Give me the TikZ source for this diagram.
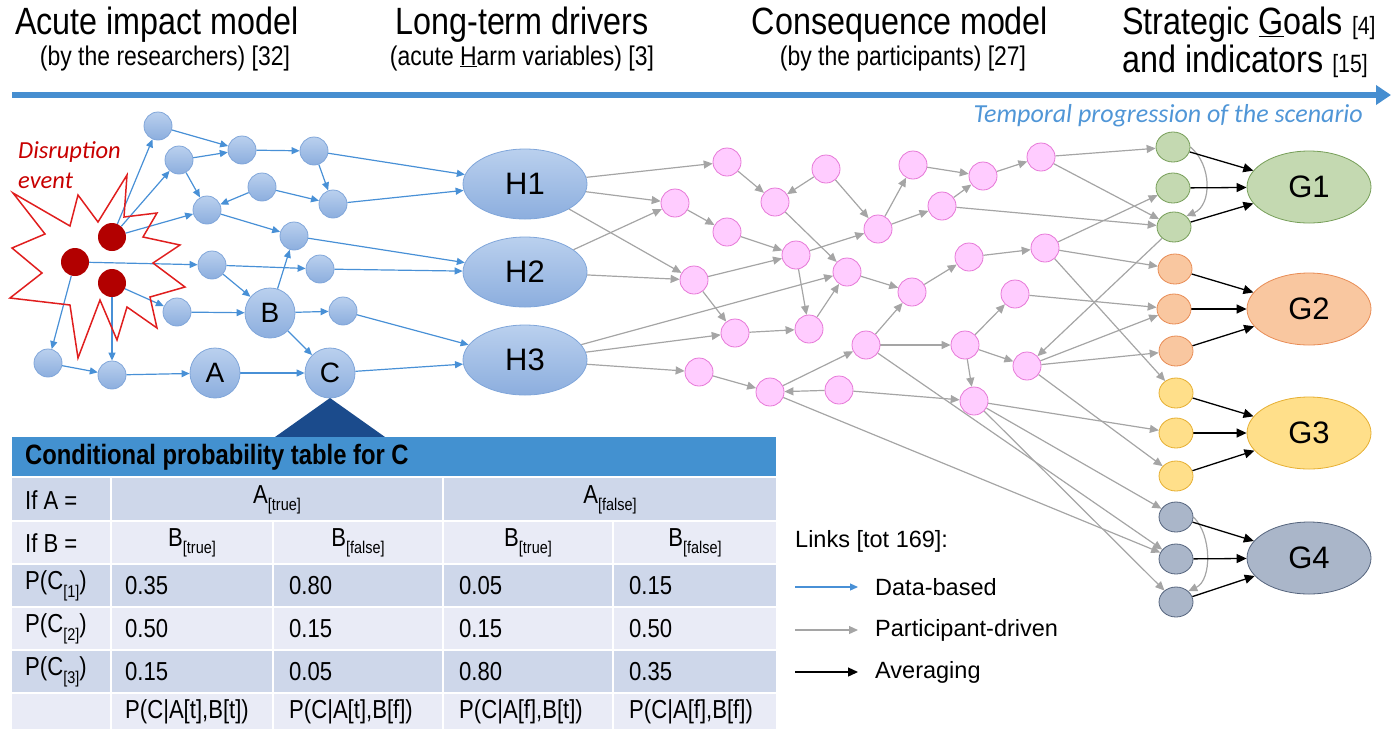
\documentclass[tikz,border=0pt]{standalone}
\usepackage{fontspec}
\setmainfont{Liberation Sans}
\newfontfamily\narrowf{Liberation Sans}[FakeStretch=0.85]
\newfontfamily\calif{Carlito}
\usetikzlibrary{arrows.meta,shapes.geometric}
\newcommand\fs[1]{\fontsize{#1}{#1}\selectfont}
\newcommand\sbs[1]{\raisebox{-0.55ex}{\fs{17}#1}}

\definecolor{tlblue}{RGB}{70,142,208}
\definecolor{linkblue}{RGB}{72,144,214}
\definecolor{linkgray}{RGB}{165,165,165}
\definecolor{btop}{RGB}{186,208,238}
\definecolor{bbot}{RGB}{140,174,222}
\definecolor{bline}{RGB}{128,166,218}
\definecolor{pfill}{RGB}{255,204,255}
\definecolor{pline}{RGB}{230,120,215}
\definecolor{dotred}{RGB}{178,0,0}
\definecolor{starred}{RGB}{224,30,30}
\definecolor{evred}{RGB}{200,0,0}
\definecolor{grfill}{RGB}{196,217,177}
\definecolor{grline}{RGB}{118,158,88}
\definecolor{orfill}{RGB}{249,199,160}
\definecolor{orline}{RGB}{232,140,85}
\definecolor{yefill}{RGB}{255,223,138}
\definecolor{yeline}{RGB}{230,175,50}
\definecolor{gyfill}{RGB}{170,182,201}
\definecolor{gyline}{RGB}{85,100,125}
\definecolor{hdrblue}{RGB}{67,145,208}
\definecolor{tridark}{RGB}{27,75,140}
\definecolor{rowdark}{RGB}{206,215,234}
\definecolor{rowlight}{RGB}{233,235,246}
\definecolor{tempblue}{RGB}{80,150,215}

\pgfdeclarelayer{edges}
\pgfsetlayers{edges,main}

\begin{document}
\begin{tikzpicture}[x=1pt,y=-1pt,
  bnode/.style={circle, minimum size=28pt, inner sep=0, draw=bline, line width=0.8pt, top color=btop, bottom color=bbot},
  bbig/.style={bnode, minimum size=50pt, font=\fs{28}},
  hnode/.style={ellipse, minimum width=124pt, minimum height=70pt, inner sep=0, draw=bline, line width=0.8pt, top color=btop, bottom color=bbot, font=\fs{31}},
  pnode/.style={circle, minimum size=28pt, inner sep=0, draw=pline, fill=pfill, line width=0.8pt},
  ind/.style={ellipse, minimum width=34pt, minimum height=30pt, inner sep=0, line width=0.8pt},
  goal/.style={ellipse, minimum width=124pt, minimum height=72pt, inner sep=0, line width=0.8pt, font=\fs{31}},
  reddot/.style={circle, minimum size=28pt, inner sep=0, fill=dotred},
  dlink/.style={draw=linkblue, line width=1.2pt, -{Triangle[length=8pt,width=7pt]}},
  plink/.style={draw=linkgray, line width=1.2pt, -{Triangle[length=9pt,width=8pt]}},
  alink/.style={draw=black, line width=1.3pt, -{Triangle[length=10pt,width=9pt]}},
  title/.style={anchor=base, inner sep=0, font=\narrowf\fs{38}},
  subtitle/.style={anchor=base, inner sep=0, font=\narrowf\fs{27}},
  cell/.style={inner sep=0, font=\narrowf\fs{26}},
  legend/.style={anchor=west, inner sep=0, font=\fs{23.5}}
]
\useasboundingbox (0,0) rectangle (1391,729);

% ---------- headings and timeline ----------
\node[title] (t1) at (157,34) {Acute impact model};
\node[subtitle] (s1) at (165,65) {(by the researchers) [32]};
\node[title] (t2) at (522,34) {Long-term drivers};
\node[subtitle] (s2) at (522,65) {(acute \underline{H}arm variables) [3]};
\node[title] (t3) at (900,34) {Consequence model};
\node[subtitle] (s3) at (903,65) {(by the participants) [27]};
\node[title, anchor=base west] (t4) at (1122,34) {Strategic \underline{G}oals {\fs{25}[4]}};
\node[title, anchor=base west] (t5) at (1122,72) {and indicators {\fs{25}[15]}};

\coordinate (tl0) at (12,95);
\coordinate (tl1) at (1391,95);
\draw[line width=6.5pt, tlblue, -{Triangle[length=15pt,width=19pt]}] (tl0) -- (tl1);
\node[anchor=east, inner sep=0, text=tempblue, font=\calif\itshape\fs{26}] (temp) at (1363,116) {Temporal progression of the scenario};

% ---------- disruption event ----------
\node[anchor=base west, inner sep=0, text=evred, font=\calif\itshape\fs{24.5}] (dis1) at (18,158) {Disruption};
\node[anchor=base west, inner sep=0, text=evred, font=\calif\itshape\fs{24.5}] (dis2) at (18,188) {event};
\draw[starred, line width=1.5pt, line join=miter]
  (12,248) -- (45,234) -- (13,193) -- (70,226) -- (78,195) -- (98,222) -- (127,175) -- (124,217)
  -- (157,213) -- (143,237) -- (180,245) -- (153,263) -- (185,287) -- (150,297) -- (157,328)
  -- (127,307) -- (117,340) -- (100,300) -- (78,358) -- (70,305) -- (10,298) -- (42,273) -- cycle;
\node[reddot] (r1) at (112,237) {};
\node[reddot] (r2) at (75,262) {};
\node[reddot] (r3) at (112,283) {};

% ---------- acute impact model ----------
\node[bnode] (n1) at (158,126) {};
\node[bnode] (n2) at (179,160) {};
\node[bnode] (n3) at (242,150) {};
\node[bnode] (n4) at (314,151) {};
\node[bnode] (n5) at (262,187) {};
\node[bnode] (n6) at (207,210) {};
\node[bnode] (n7) at (333,204) {};
\node[bnode] (n8) at (294,236) {};
\node[bnode] (n9) at (212,265) {};
\node[bnode] (n10) at (320,269) {};
\node[bnode] (n11) at (177,312) {};
\node[bbig] (B) at (270,313) {B};
\node[bnode] (n12) at (343,311) {};
\node[bnode] (n13) at (48,363) {};
\node[bnode] (n14) at (112,375) {};
\node[bbig] (A) at (215,373) {A};
\node[bbig] (C) at (330,373) {C};

% ---------- harm variables ----------
\node[hnode] (H1) at (525,184) {H1};
\node[hnode] (H2) at (525,272) {H2};
\node[hnode] (H3) at (525,360) {H3};

% ---------- consequence model ----------
\node[pnode] (p1) at (727,162) {};
\node[pnode] (p2) at (675,203) {};
\node[pnode] (p3) at (727,232) {};
\node[pnode] (p4) at (826,169) {};
\node[pnode] (p5) at (775,202) {};
\node[pnode] (p6) at (796,255) {};
\node[pnode] (p7) at (694,280) {};
\node[pnode] (p8) at (847,272) {};
\node[pnode] (p9) at (735,333) {};
\node[pnode] (p10) at (809,329) {};
\node[pnode] (p11) at (699,372) {};
\node[pnode] (p12) at (770,392) {};
\node[pnode] (p13) at (839,390) {};
\node[pnode] (p14) at (866,345) {};
\node[pnode] (p15) at (878,229) {};
\node[pnode] (p16) at (913,165) {};
\node[pnode] (p17) at (942,206) {};
\node[pnode] (p18) at (912,292) {};
\node[pnode] (p20) at (983,176) {};
\node[pnode] (p22) at (1041,157) {};
\node[pnode] (p23) at (969,257) {};
\node[pnode] (p24) at (1045,248) {};
\node[pnode] (p26) at (1015,294) {};
\node[pnode] (p27) at (965,345) {};
\node[pnode] (p28) at (1027,366) {};
\node[pnode] (p29) at (974,401) {};

% ---------- indicators and goals ----------
\node[ind, fill=grfill, draw=grline] (gr1) at (1173,147) {};
\node[ind, fill=grfill, draw=grline] (gr2) at (1173,188) {};
\node[ind, fill=grfill, draw=grline] (gr3) at (1174,227) {};
\node[ind, fill=orfill, draw=orline] (or1) at (1175,269) {};
\node[ind, fill=orfill, draw=orline] (or2) at (1174,309) {};
\node[ind, fill=orfill, draw=orline] (or3) at (1176,351) {};
\node[ind, fill=yefill, draw=yeline] (ye1) at (1176,393) {};
\node[ind, fill=yefill, draw=yeline] (ye2) at (1176,433) {};
\node[ind, fill=yefill, draw=yeline] (ye3) at (1176,476) {};
\node[ind, fill=gyfill, draw=gyline] (gy1) at (1176,517) {};
\node[ind, fill=gyfill, draw=gyline] (gy2) at (1176,559) {};
\node[ind, fill=gyfill, draw=gyline] (gy3) at (1176,602) {};

\node[goal, fill=grfill, draw=grline] (G1) at (1309,187) {G1};
\node[goal, fill=orfill, draw=orline] (G2) at (1309,309) {G2};
\node[goal, fill=yefill, draw=yeline] (G3) at (1309,433) {G3};
\node[goal, fill=gyfill, draw=gyline] (G4) at (1309,558) {G4};

% ---------- links ----------
\begin{pgfonlayer}{edges}
\foreach \a/\b in {r1/n1, r1/n2, r1/n6, r2/n9, r2/n13, r3/n11, r3/n14,
  n1/n3, n2/n3, n2/n6, n3/n4, n4/n7, n5/n6, n5/n7, n6/n8, n9/n10, n9/B,
  B/n8, n11/B, B/n12, B/C, n13/n14, n14/A, A/C,
  n4/H1, n7/H1, n8/H2, n10/H2, n12/H3, C/H3}
  \draw[dlink] (\a) -- (\b);
\foreach \a/\b in {H1/p1, H1/p2, H1/p7, H2/p2, H2/p7, H3/p8, H3/p9, H3/p11,
  p1/p5, p2/p3, p3/p6, p4/p5, p4/p15, p5/p8, p6/p10, p6/p15, p7/p6, p7/p9,
  p9/p10, p10/p8, p8/p18, p11/p12, p13/p12, p12/p14, p14/p18, p14/p27,
  p15/p16, p15/p17, p16/p20, p17/p20, p20/p22, p18/p23, p23/p24,
  p27/p26, p27/p28, p27/p29, p13/p29,
  p22/gr1, p22/gr3, p17/gr3, p24/gr2, p24/or1, p24/ye1, gr3/p28,
  p26/or2, p28/or2, p28/or3, p28/ye3, p29/ye2, p29/gy1, p29/gy3,
  p14/gy2, p12/gy2}
  \draw[plink] (\a) -- (\b);
\draw[plink] (gr1.east) .. controls (1212,165) and (1212,205) .. (gr3.north east);
\draw[plink] (gy1.east) .. controls (1212,535) and (1212,580) .. (gy3.north east);
\foreach \a/\b in {gr1/G1, gr2/G1, gr3/G1, or1/G2, or2/G2, or3/G2,
  ye1/G3, ye2/G3, ye3/G3, gy1/G4, gy2/G4, gy3/G4}
  \draw[alink] (\a) -- (\b);
\end{pgfonlayer}

% ---------- legend ----------
\node[legend] (lgtitle) at (795,541) {Links [tot 169]:};
\coordinate (lb0) at (795,587); \coordinate (lb1) at (858,587);
\coordinate (lg0) at (795,630); \coordinate (lg1) at (858,630);
\coordinate (lk0) at (795,672); \coordinate (lk1) at (858,672);
\draw[dlink] (lb0) -- (lb1);
\draw[plink] (lg0) -- (lg1);
\draw[alink] (lk0) -- (lk1);
\node[legend] (lgb) at (875,587) {Data-based};
\node[legend] (lgg) at (875,630) {Participant-driven};
\node[legend] (lgk) at (875,672) {Averaging};

% ---------- conditional probability table ----------
\fill[tridark] (330,398) -- (385,437) -- (275,437) -- cycle;
\fill[hdrblue] (12,437) rectangle (776,476);
\node[anchor=west, inner sep=0, font=\narrowf\bfseries\fs{28}] (cpt) at (25,457) {Conditional probability table for C};
\fill[rowdark] (12,478) rectangle (776,521);
\fill[rowlight] (12,521) rectangle (776,564);
\fill[rowdark] (12,564) rectangle (776,607);
\fill[rowlight] (12,607) rectangle (776,650);
\fill[rowdark] (12,650) rectangle (776,693);
\fill[rowlight] (12,693) rectangle (776,729);
\foreach \yy in {521,564,607,650,693}
  \draw[white, line width=2.5pt] (12,\yy) -- (776,\yy);
\foreach \xx in {111,443}
  \draw[white, line width=2.5pt] (\xx,478) -- (\xx,729);
\foreach \xx in {273,613}
  \draw[white, line width=2.5pt] (\xx,521) -- (\xx,729);

\node[cell, anchor=west] (ifa) at (25,500) {If A =};
\node[cell] (at) at (277,500) {A\sbs{[true]}};
\node[cell] (af) at (610,500) {A\sbs{[false]}};
\node[cell, anchor=west] (ifb) at (25,543) {If B =};
\node[cell] (bt1) at (192,543) {B\sbs{[true]}};
\node[cell] (bf1) at (358,543) {B\sbs{[false]}};
\node[cell] (bt2) at (528,543) {B\sbs{[true]}};
\node[cell] (bf2) at (695,543) {B\sbs{[false]}};

\node[cell, anchor=west] (pc1) at (25,586) {P(C\sbs{[1]})};
\node[cell, anchor=west] (v11) at (125,586) {0.35};
\node[cell, anchor=west] (v12) at (289,586) {0.80};
\node[cell, anchor=west] (v13) at (459,586) {0.05};
\node[cell, anchor=west] (v14) at (629,586) {0.15};

\node[cell, anchor=west] (pc2) at (25,629) {P(C\sbs{[2]})};
\node[cell, anchor=west] (v21) at (125,629) {0.50};
\node[cell, anchor=west] (v22) at (289,629) {0.15};
\node[cell, anchor=west] (v23) at (459,629) {0.15};
\node[cell, anchor=west] (v24) at (629,629) {0.50};

\node[cell, anchor=west] (pc3) at (25,672) {P(C\sbs{[3]})};
\node[cell, anchor=west] (v31) at (125,672) {0.15};
\node[cell, anchor=west] (v32) at (289,672) {0.05};
\node[cell, anchor=west] (v33) at (459,672) {0.80};
\node[cell, anchor=west] (v34) at (629,672) {0.35};

\node[cell, anchor=west] (f1) at (125,712) {P(C|A[t],B[t])};
\node[cell, anchor=west] (f2) at (289,712) {P(C|A[t],B[f])};
\node[cell, anchor=west] (f3) at (459,712) {P(C|A[f],B[t])};
\node[cell, anchor=west] (f4) at (629,712) {P(C|A[f],B[f])};
\end{tikzpicture}
\end{document}
